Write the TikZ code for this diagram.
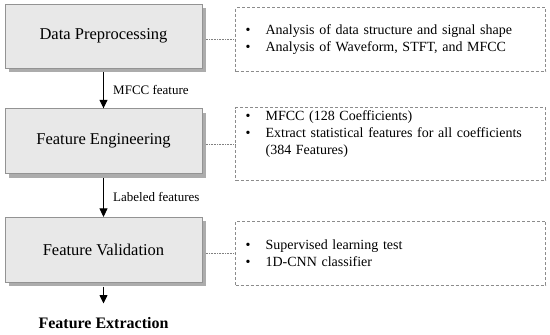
\documentclass[tikz,border=0pt]{standalone}
\usepackage{fontspec}
\setmainfont{Liberation Serif}
\usetikzlibrary{positioning, arrows.meta, shadows}

\begin{document}
\begin{tikzpicture}[
        node distance=40pt and 33pt,
        % Box principali grigi con ombra
        stage/.style={draw=gray!85, fill=gray!18, minimum width=197pt, minimum height=64pt, align=center,
            font=\fontsize{16.5}{19}\selectfont, line width=0.6pt,
            drop shadow={shadow xshift=3.5pt, shadow yshift=-4pt, fill=gray!65, opacity=1}},
        % Box tratteggiati con elenco puntato
        note/.style={draw=gray!90, dash pattern=on 3pt off 2pt, line width=0.6pt, minimum height=64pt, text width=290pt,
            inner xsep=10pt, align=left, font=\fontsize{14}{17}\selectfont},
        % Frecce nere
        arrow/.style={-{Triangle[width=8pt,length=8.5pt]}, line width=0.8pt},
        link/.style={densely dotted, gray, line width=0.6pt},
        edgelabel/.style={font=\fontsize{13}{15}\selectfont, right, xshift=6pt}
    ]
    \useasboundingbox (0,0) rectangle (550pt,-335pt);

    % --- Stage 1: Preprocessing ---
    \node[stage] (prep) at (103.5pt,-36pt) {Data Preprocessing};
    \node[note, right=33pt of prep, yshift=-3.5pt] (prep_note) {\makebox[20pt][l]{\textbullet}Analysis of data structure and signal shape\\
        \makebox[20pt][l]{\textbullet}Analysis of Waveform, STFT, and MFCC};

    % --- Stage 2: Feature Engineering ---
    \node[stage, below=40pt of prep, minimum height=65pt] (eng) {Feature Engineering};
    \node[note, right=33pt of eng, yshift=-3pt] (eng_note) {\makebox[20pt][l]{\textbullet}MFCC (128 Coefficients)\\
        \makebox[20pt][l]{\textbullet}Extract statistical features for all coefficients\\
        \hspace*{20pt}(384 Features)\\ \strut};

    % --- Stage 3: Validation ---
    \node[stage, below=43pt of eng, minimum height=65pt] (valid) {Feature Validation};
    \node[note, right=33pt of valid, yshift=-3.5pt] (valid_note) {\makebox[20pt][l]{\textbullet}Supervised learning test\\
        \makebox[20pt][l]{\textbullet}1D-CNN classifier};

    % --- Output ---
    \node[below=31pt of valid, font=\fontsize{16}{19}\selectfont\bfseries] (extract) {Feature Extraction};

    % --- Connections ---
    \draw[arrow] ([yshift=-4pt]prep.south) -- node[edgelabel] {MFCC feature} (eng.north);
    \draw[arrow] ([yshift=-4pt]eng.south) -- node[edgelabel] {Labeled features} (valid.north);
    \draw[arrow, shorten >=10pt] ([yshift=-4pt]valid.south) -- (extract.north);

    % Collegamenti punteggiati verso le note
    \draw[link] (prep_note.west -| prep.east) ++(3.5pt,0) -- (prep_note.west);
    \draw[link] (eng_note.west -| eng.east) ++(3.5pt,0) -- (eng_note.west);
    \draw[link] (valid_note.west -| valid.east) ++(3.5pt,0) -- (valid_note.west);

\end{tikzpicture}
\end{document}
